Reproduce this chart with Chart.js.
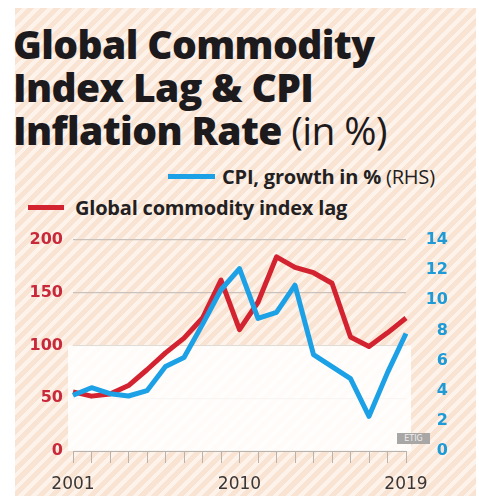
<!DOCTYPE html>
<html>
<head>
<meta charset="utf-8">
<script src="https://cdn.jsdelivr.net/npm/chart.js@4.4.1/dist/chart.umd.min.js"></script>
<style>
  html, body { margin: 0; padding: 0; background: #fff; }
  #page {
    position: relative; width: 479px; height: 499px; overflow: hidden;
    background: #fff;
  }
  #paper {
    position: absolute; left: 15px; top: 8px; width: 461px; height: 488px;
    background: repeating-linear-gradient(135deg, #f9e3d2 0px, #f9e3d2 5px, #fdf3eb 5px, #fdf3eb 9px);
  }
  #title {
    position: absolute; left: 13px; top: 22px; margin: 0;
    font-family: "Open Sans", sans-serif; font-weight: 800;
    font-size: 39px; line-height: 43px; color: #1c1a1d; letter-spacing: -0.6px;
  }
  #title span { font-weight: 400; }
  .leg {
    position: absolute; font-family: "Open Sans", sans-serif; font-weight: 700;
    font-size: 20px; line-height: 22px; color: #231f22; white-space: nowrap;
    letter-spacing: -0.2px;
  }
  .leg span { font-weight: 400; }
  .swatch { position: absolute; height: 5px; }
  #tag {
    position: absolute; left: 397px; top: 433px; width: 33px; height: 11px;
    background: #a9a6a6; color: #eee; font: 8px "DejaVu Sans", sans-serif;
    line-height: 11px; text-align: center;
  }
  canvas { position: absolute; left: 0; top: 0; }
</style>
</head>
<body>
<div id="page">
  <div id="paper"></div>
  <h1 id="title">Global Commodity<br>Index Lag &amp; CPI<br>Inflation Rate <span>(in %)</span></h1>
  <div class="swatch" style="left:168px; top:174px; width:47px; background:#1da1e6;"></div>
  <div class="leg" style="left:222px; top:166px;">CPI, growth in % <span>(RHS)</span></div>
  <div class="swatch" style="left:28px; top:205px; width:36px; background:#d42330;"></div>
  <div class="leg" style="left:75px; top:197px;">Global commodity index lag</div>
  <canvas id="chart" width="479" height="499"></canvas>
  <div id="tag">ETIG</div>
</div>
<script>
// Chart data
var years = ['2001','2002','2003','2004','2005','2006','2007','2008','2009','2010',
             '2011','2012','2013','2014','2015','2016','2017','2018','2019'];
var shownYears = ['2001','2010','2019'];
var commodityLag = [56, 52, 54, 62, 77, 93, 107, 126, 162, 115,
                    141, 184, 174, 169, 159, 108, 99, 112, 126];
var cpiGrowth = [3.7, 4.2, 3.8, 3.65, 4.0, 5.6, 6.2, 8.4, 10.7, 12.1,
                 8.8, 9.2, 11.0, 6.4, 5.6, 4.8, 2.3, 5.2, 7.8];

var red = '#d42330';
var blue = '#1da1e6';

// a soft white panel behind the lower part of the plot
var whitePanel = {
	id: 'whitePanel',
	beforeDatasetsDraw: function (chart) {
		var area = chart.chartArea;
		var y100 = chart.scales.y.getPixelForValue(100);
		var ctx = chart.ctx;
		ctx.save();
		ctx.fillStyle = 'rgba(255,255,255,0.85)';
		ctx.fillRect(area.left - 5, y100, area.right - area.left + 10, area.bottom - y100);
		ctx.restore();
	}
};

var ctx = document.getElementById('chart');
var myChart = new Chart(ctx, {
	type: 'line',
	data: {
		labels: years,
		datasets: [{
			label: 'CPI, growth in % (RHS)',
			data: cpiGrowth,
			yAxisID: 'y1',
			borderColor: blue,
			borderWidth: 5,
			pointRadius: 0,
			tension: 0,
			borderJoinStyle: 'round'
		}, {
			label: 'Global commodity index lag',
			data: commodityLag,
			yAxisID: 'y',
			borderColor: red,
			borderWidth: 5,
			pointRadius: 0,
			tension: 0,
			borderJoinStyle: 'round'
		}]
	},
	options: {
		responsive: false,
		animation: false,
		layout: { padding: { left: 0, right: 31, top: 240, bottom: 0 } },
		plugins: {
			legend: { display: false },
			tooltip: { enabled: false }
		},
		scales: {
			x: {
				offset: false,
				afterFit: function (scale) { scale.height = 48; },
				grid: { drawOnChartArea: false, drawTicks: true, tickLength: 12, color: '#b9b3ae', lineWidth: 1 },
				border: { display: true, color: '#b9b3ae', width: 1 },
				ticks: {
					autoSkip: false, maxRotation: 0, padding: 11,
					color: '#3a3636',
					font: { family: 'DejaVu Sans', size: 17 },
					callback: function (value, index) {
						var lbl = years[index];
						return shownYears.indexOf(lbl) >= 0 ? lbl : '';
					}
				}
			},
			y: {
				position: 'left',
				min: 0, max: 200,
				afterFit: function (scale) { scale.width = 73; },
				grid: { drawTicks: false, color: '#c9c2bc', lineWidth: 1.3 },
				border: { display: false },
				ticks: {
					stepSize: 50, padding: 10, color: '#c8283a',
					font: { family: 'DejaVu Sans', size: 16, weight: 'bold' }
				}
			},
			y1: {
				position: 'right',
				min: 0, max: 14,
				afterFit: function (scale) { scale.width = 42; },
				grid: { drawOnChartArea: false, drawTicks: false },
				border: { display: false },
				ticks: {
					stepSize: 2, padding: 10, crossAlign: 'far', color: '#1e9ad6',
					font: { family: 'DejaVu Sans', size: 16, weight: 'bold' }
				}
			}
		}
	},
	plugins: [whitePanel]
});
</script>
</body>
</html>
